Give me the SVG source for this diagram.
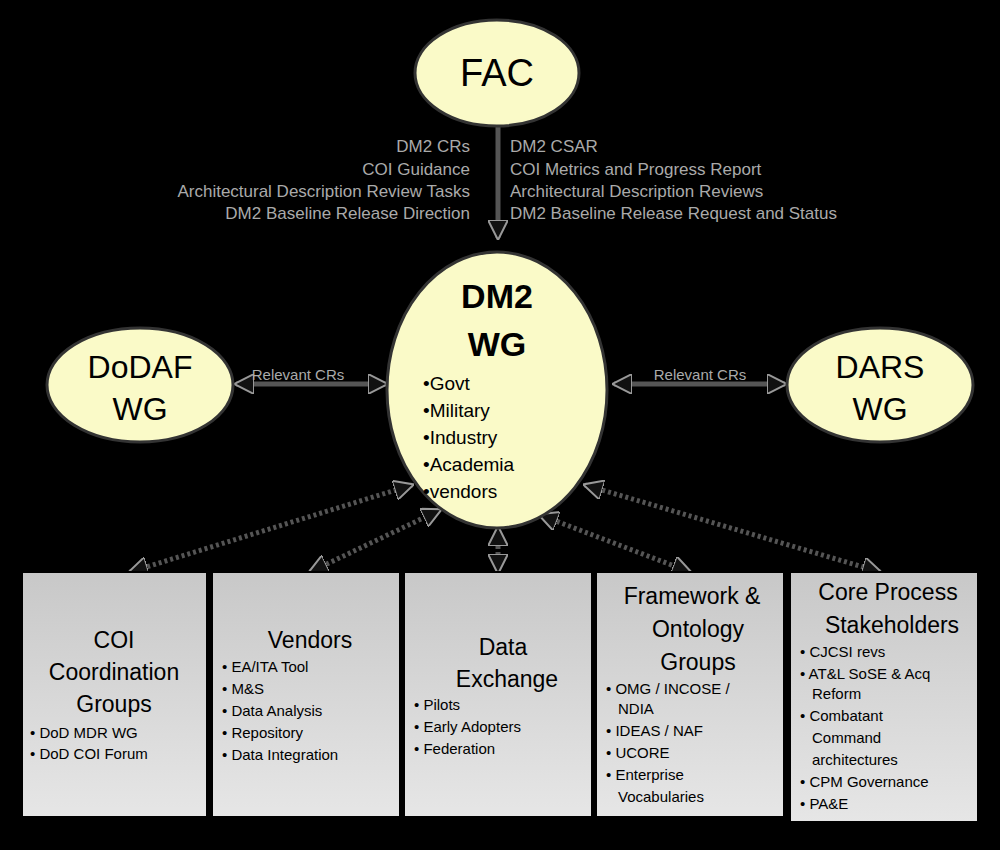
<svg xmlns="http://www.w3.org/2000/svg" width="1000" height="850" viewBox="0 0 1000 850">
<defs>
<marker id="ah" viewBox="0 0 10 10" refX="9" refY="5" markerWidth="4" markerHeight="4" orient="auto-start-reverse"><path d="M0,0L10,5L0,10z" fill="#111" stroke="#999" stroke-width="1"/></marker>
<linearGradient id="bx" x1="0" y1="0" x2="0" y2="1"><stop offset="0" stop-color="#c8c8c8"/><stop offset="1" stop-color="#e6e6e6"/></linearGradient>
</defs>
<style>
text{font-family:"Liberation Sans",Arial,sans-serif;fill:#000}
.el{fill:#fafac8;stroke:#333;stroke-width:3}
.bx{fill:url(#bx);stroke:#000;stroke-width:2}
.c{stroke:#555;stroke-width:5;fill:none;marker-start:url(#ah);marker-end:url(#ah)}
.d{stroke:#555;stroke-width:5;stroke-dasharray:3 3;fill:none;marker-start:url(#ah);marker-end:url(#ah)}
.one{marker-start:none}
.lb text{font-size:17px;fill:#aaa}
.t{font-size:23px;text-anchor:middle}
.s{font-size:15px}
</style>
<rect width="1000" height="850" fill="#000"/>
<g id="connectors">
<line class="c one" x1="498" y1="127" x2="498" y2="238"/>
<line class="c" x1="236" y1="384" x2="386" y2="384"/>
<line class="c" x1="614" y1="384" x2="785" y2="384"/>
<line class="d" x1="130" y1="572" x2="412" y2="485"/>
<line class="d" x1="310" y1="572" x2="440" y2="510"/>
<line class="d" x1="498" y1="528" x2="498" y2="572"/>
<line class="d" x1="540" y1="515" x2="690" y2="572"/>
<line class="d" x1="585" y1="485" x2="880" y2="572"/>
</g>
<g id="labels" class="lb">
<text x="470" y="152" text-anchor="end">DM2 CRs</text>
<text x="470" y="175" text-anchor="end">COI Guidance</text>
<text x="470" y="197" text-anchor="end">Architectural Description Review Tasks</text>
<text x="470" y="219" text-anchor="end">DM2 Baseline Release Direction</text>
<text x="510" y="152">DM2 CSAR</text>
<text x="510" y="175">COI Metrics and Progress Report</text>
<text x="510" y="197">Architectural Description Reviews</text>
<text x="510" y="219">DM2 Baseline Release Request and Status</text>
<text x="298" y="380" text-anchor="middle" style="font-size:15px">Relevant CRs</text>
<text x="700" y="380" text-anchor="middle" style="font-size:15px">Relevant CRs</text>
</g>
<g id="fac"><ellipse class="el" cx="497" cy="73" rx="82" ry="53"/><text x="497" y="86" font-size="38" text-anchor="middle">FAC</text></g>
<g id="dm2"><ellipse class="el" cx="497" cy="390" rx="110" ry="138"/>
<text x="497" y="308" font-size="34" font-weight="bold" text-anchor="middle">DM2</text>
<text x="497" y="356" font-size="34" font-weight="bold" text-anchor="middle">WG</text>
<g font-size="19"><text x="423" y="390">•Govt</text><text x="423" y="417">•Military</text><text x="423" y="444">•Industry</text><text x="423" y="471">•Academia</text><text x="423" y="498">•vendors</text></g></g>
<g id="dodaf"><ellipse class="el" cx="140" cy="385" rx="93" ry="57"/><text x="140" y="378" font-size="32" text-anchor="middle">DoDAF</text><text x="140" y="420" font-size="32" text-anchor="middle">WG</text></g>
<g id="dars"><ellipse class="el" cx="880" cy="385" rx="93" ry="57"/><text x="880" y="378" font-size="32" text-anchor="middle">DARS</text><text x="880" y="420" font-size="32" text-anchor="middle">WG</text></g>
<g id="coi"><rect class="bx" x="22" y="572" width="185" height="245"/>
<text class="t" x="114" y="648">COI</text><text class="t" x="114" y="680">Coordination</text><text class="t" x="114" y="712">Groups</text>
<text class="s" x="30" y="738">• DoD MDR WG</text><text class="s" x="30" y="759">• DoD COI Forum</text></g>
<g id="vendors"><rect class="bx" x="212" y="572" width="188" height="245"/>
<text class="t" x="310" y="648">Vendors</text>
<text class="s" x="222" y="672">• EA/ITA Tool</text><text class="s" x="222" y="694">• M&amp;S</text><text class="s" x="222" y="716">• Data Analysis</text><text class="s" x="222" y="738">• Repository</text><text class="s" x="222" y="760">• Data Integration</text></g>
<g id="dx"><rect class="bx" x="404" y="572" width="188" height="245"/>
<text class="t" x="503" y="655">Data</text><text class="t" x="507" y="687">Exchange</text>
<text class="s" x="414" y="710">• Pilots</text><text class="s" x="414" y="732">• Early Adopters</text><text class="s" x="414" y="754">• Federation</text></g>
<g id="fw"><rect class="bx" x="596" y="572" width="188" height="245"/>
<text class="t" x="692" y="604">Framework &amp;</text><text class="t" x="698" y="637">Ontology</text><text class="t" x="698" y="670">Groups</text>
<text class="s" x="606" y="694">• OMG / INCOSE /</text><text class="s" x="618" y="714">NDIA</text><text class="s" x="606" y="736">• IDEAS / NAF</text><text class="s" x="606" y="758">• UCORE</text><text class="s" x="606" y="780">• Enterprise</text><text class="s" x="618" y="802">Vocabularies</text></g>
<g id="cp"><rect class="bx" x="790" y="572" width="188" height="250"/>
<text class="t" x="888" y="600">Core Process</text><text class="t" x="892" y="633">Stakeholders</text>
<text class="s" x="800" y="657">• CJCSI revs</text><text class="s" x="800" y="679">• AT&amp;L SoSE &amp; Acq</text><text class="s" x="812" y="699">Reform</text><text class="s" x="800" y="721">• Combatant</text><text class="s" x="812" y="743">Command</text><text class="s" x="812" y="765">architectures</text><text class="s" x="800" y="787">• CPM Governance</text><text class="s" x="800" y="809">• PA&amp;E</text></g>
</svg>
